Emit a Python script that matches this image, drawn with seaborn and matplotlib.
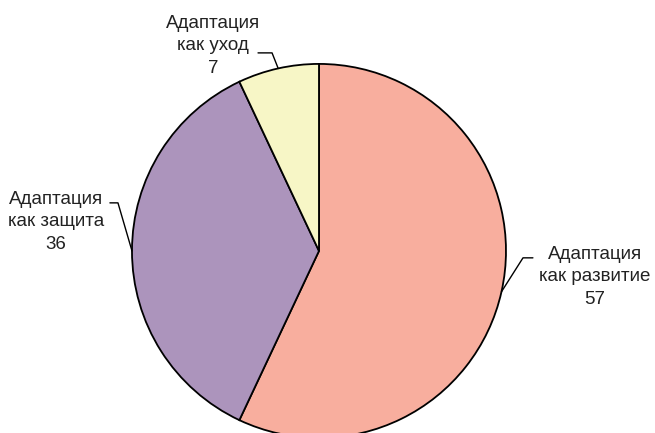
import numpy as np
import seaborn as sns
import matplotlib.pyplot as plt

labels = ["Адаптация\nкак развитие", "Адаптация\nкак защита", "Адаптация\nкак уход"]
values = [57, 36, 7]
colors = ["#F8AE9E", "#AC94BC", "#F7F6C6"]

# label centre, elbow start, elbow end (pie radius = 1)
text_pos = [(1.476, -0.139), (-1.406, 0.155), (-0.567, 1.096)]
elbow = [((1.144, -0.037), (1.091, -0.037)),
         ((-1.118, 0.257), (-1.075, 0.257)),
         ((-0.326, 1.059), (-0.251, 1.059))]

sns.set_style("white")
plt.rcParams['font.family'] = ['Liberation Sans', 'DejaVu Sans']

fig = plt.figure(figsize=(6.55, 4.33), dpi=100)
ax = fig.add_axes([0.2015, -0.0115, 0.571, 0.864])
wedges, _ = ax.pie(values, colors=colors, startangle=90, counterclock=False,
                   radius=1, wedgeprops=dict(edgecolor="black", linewidth=1.3))
ax.set_xlim(-1, 1)
ax.set_ylim(-1, 1)
ax.set_aspect("equal")
ax.axis("off")
for w in wedges:
    w.set_clip_on(False)

for w, lab, v, tp, (e0, e1) in zip(wedges, labels, values, text_pos, elbow):
    ang = np.deg2rad((w.theta1 + w.theta2) / 2)
    px, py = np.cos(ang), np.sin(ang)
    ax.text(tp[0], tp[1], f"{lab}\n{v}", ha="center", va="center",
            fontsize=13.5, color="#222222", linespacing=1.4)
    ax.plot([e0[0], e1[0], px], [e0[1], e1[1], py], color="black",
            lw=1, clip_on=False)

fig.savefig("out.png", dpi=100)
